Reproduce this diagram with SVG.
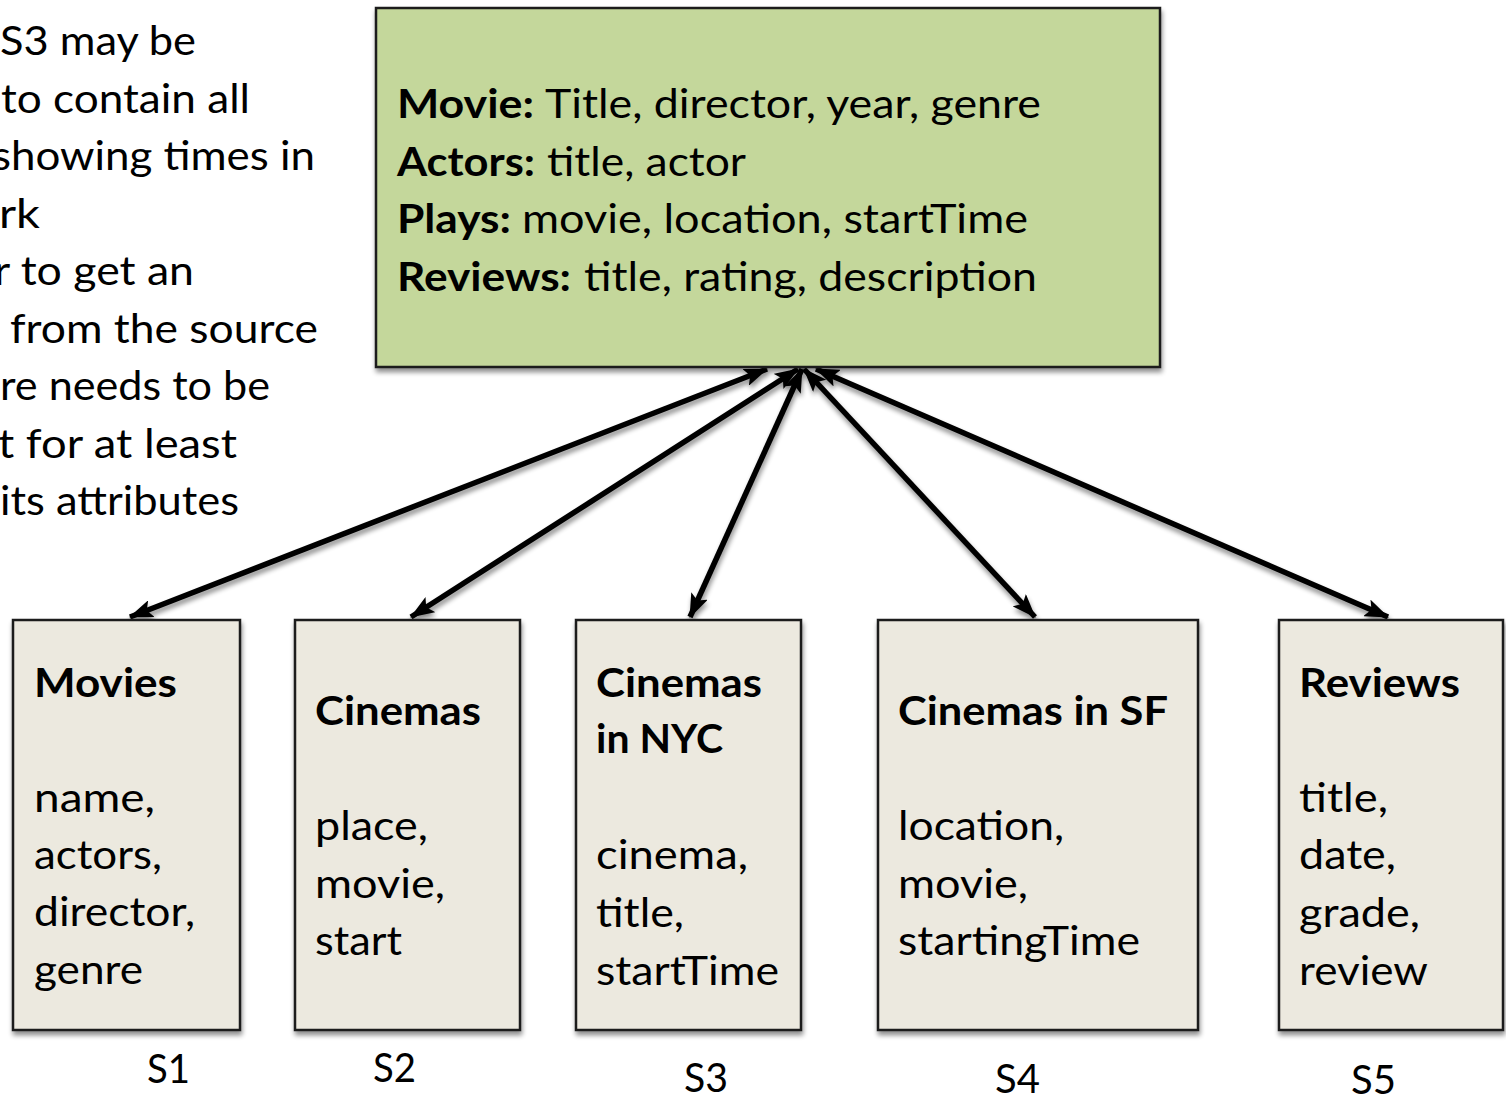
<svg xmlns="http://www.w3.org/2000/svg" width="1506" height="1100" viewBox="0 0 1506 1100">
  <style>
    text { font-family: Lato, "Open Sans", "Liberation Sans", sans-serif; font-size: 41px; fill: #000; }
    .b { font-weight: bold; }
    .src { fill: #ece9df; stroke: #1a1a1a; stroke-width: 2.5; }
    .med { fill: #c4d79b; stroke: #1a1a1a; stroke-width: 2.5; }
    .link { stroke: #000; stroke-width: 5.5; fill: none; marker-start: url(#head); marker-end: url(#head); }
  </style>
  <defs>
    <filter id="shadow" x="-10%" y="-10%" width="120%" height="125%">
      <feGaussianBlur in="SourceAlpha" stdDeviation="2.5"/>
      <feOffset dx="1" dy="4" result="off"/>
      <feComponentTransfer><feFuncA type="linear" slope="0.45"/></feComponentTransfer>
      <feMerge><feMergeNode/><feMergeNode in="SourceGraphic"/></feMerge>
    </filter>
    <marker id="head" viewBox="0 0 24 18" refX="23" refY="9" markerWidth="24" markerHeight="18" markerUnits="userSpaceOnUse" orient="auto-start-reverse">
      <path d="M0,0 L24,9 L0,18 L5,9 Z" fill="#000"/>
    </marker>
  </defs>

  <!-- note text at the left edge -->
  <g id="note">
    <text x="0" y="55" textLength="196" lengthAdjust="spacingAndGlyphs">S3 may be</text>
    <text x="1" y="112.5" textLength="249" lengthAdjust="spacingAndGlyphs">to contain all</text>
    <text x="-8" y="170" textLength="323" lengthAdjust="spacingAndGlyphs">showing times in</text>
    <text x="-1" y="227.5" textLength="41" lengthAdjust="spacingAndGlyphs">rk</text>
    <text x="-6" y="285" textLength="200" lengthAdjust="spacingAndGlyphs">r to get an</text>
    <text x="10" y="342.5" textLength="308" lengthAdjust="spacingAndGlyphs">from the source</text>
    <text x="0" y="400" textLength="270" lengthAdjust="spacingAndGlyphs">re needs to be</text>
    <text x="-2" y="457.5" textLength="239" lengthAdjust="spacingAndGlyphs">t for at least</text>
    <text x="0" y="515" textLength="239" lengthAdjust="spacingAndGlyphs">its attributes</text>
  </g>

  <!-- connectors -->
  <g id="connectors" filter="url(#shadow)">
    <line class="link" x1="130" y1="617" x2="767" y2="369"/>
    <line class="link" x1="411" y1="617" x2="798" y2="369"/>
    <line class="link" x1="690" y1="617" x2="802" y2="369"/>
    <line class="link" x1="1035" y1="617" x2="804" y2="369"/>
    <line class="link" x1="1388" y1="617" x2="816" y2="369"/>
  </g>

  <!-- mediated schema -->
  <g id="mediated">
    <rect class="med" x="376" y="8" width="784" height="359" filter="url(#shadow)"/>
    <text class="b" x="397" y="118" textLength="137" lengthAdjust="spacingAndGlyphs">Movie:</text>
    <text x="545" y="118" textLength="496" lengthAdjust="spacingAndGlyphs">Title, director, year, genre</text>
    <text class="b" x="397" y="175.5" textLength="138" lengthAdjust="spacingAndGlyphs">Actors:</text>
    <text x="547" y="175.5" textLength="199" lengthAdjust="spacingAndGlyphs">title, actor</text>
    <text class="b" x="397" y="233" textLength="114" lengthAdjust="spacingAndGlyphs">Plays:</text>
    <text x="522" y="233" textLength="506" lengthAdjust="spacingAndGlyphs">movie, location, startTime</text>
    <text class="b" x="397" y="290.5" textLength="174" lengthAdjust="spacingAndGlyphs">Reviews:</text>
    <text x="584" y="290.5" textLength="453" lengthAdjust="spacingAndGlyphs">title, rating, description</text>
  </g>

  <!-- source S1 -->
  <g id="s1">
    <rect class="src" x="13" y="620" width="227" height="410" filter="url(#shadow)"/>
    <text class="b" x="34" y="697" textLength="143" lengthAdjust="spacingAndGlyphs">Movies</text>
    <text x="34" y="812" textLength="121" lengthAdjust="spacingAndGlyphs">name,</text>
    <text x="34" y="869" textLength="128" lengthAdjust="spacingAndGlyphs">actors,</text>
    <text x="34" y="926" textLength="161" lengthAdjust="spacingAndGlyphs">director,</text>
    <text x="34" y="984" textLength="109" lengthAdjust="spacingAndGlyphs">genre</text>
    <text x="147" y="1083" textLength="43" lengthAdjust="spacingAndGlyphs">S1</text>
  </g>

  <!-- source S2 -->
  <g id="s2">
    <rect class="src" x="295" y="620" width="225" height="410" filter="url(#shadow)"/>
    <text class="b" x="315" y="725" textLength="166" lengthAdjust="spacingAndGlyphs">Cinemas</text>
    <text x="315" y="840" textLength="113" lengthAdjust="spacingAndGlyphs">place,</text>
    <text x="315" y="898" textLength="130" lengthAdjust="spacingAndGlyphs">movie,</text>
    <text x="315" y="955" textLength="87" lengthAdjust="spacingAndGlyphs">start</text>
    <text x="373" y="1082" textLength="43" lengthAdjust="spacingAndGlyphs">S2</text>
  </g>

  <!-- source S3 -->
  <g id="s3">
    <rect class="src" x="576" y="620" width="225" height="410" filter="url(#shadow)"/>
    <text class="b" x="596" y="697" textLength="166" lengthAdjust="spacingAndGlyphs">Cinemas</text>
    <text class="b" x="596" y="753" textLength="127" lengthAdjust="spacingAndGlyphs">in NYC</text>
    <text x="596" y="869" textLength="152" lengthAdjust="spacingAndGlyphs">cinema,</text>
    <text x="596" y="927" textLength="88" lengthAdjust="spacingAndGlyphs">title,</text>
    <text x="596" y="985" textLength="183" lengthAdjust="spacingAndGlyphs">startTime</text>
    <text x="684" y="1092" textLength="44" lengthAdjust="spacingAndGlyphs">S3</text>
  </g>

  <!-- source S4 -->
  <g id="s4">
    <rect class="src" x="878" y="620" width="320" height="410" filter="url(#shadow)"/>
    <text class="b" x="898" y="725" textLength="270" lengthAdjust="spacingAndGlyphs">Cinemas in SF</text>
    <text x="898" y="840" textLength="166" lengthAdjust="spacingAndGlyphs">location,</text>
    <text x="898" y="898" textLength="130" lengthAdjust="spacingAndGlyphs">movie,</text>
    <text x="898" y="955" textLength="242" lengthAdjust="spacingAndGlyphs">startingTime</text>
    <text x="995" y="1093" textLength="45" lengthAdjust="spacingAndGlyphs">S4</text>
  </g>

  <!-- source S5 -->
  <g id="s5">
    <rect class="src" x="1279" y="620" width="224" height="410" filter="url(#shadow)"/>
    <text class="b" x="1299" y="697" textLength="161" lengthAdjust="spacingAndGlyphs">Reviews</text>
    <text x="1299" y="812" textLength="89" lengthAdjust="spacingAndGlyphs">title,</text>
    <text x="1299" y="869" textLength="97" lengthAdjust="spacingAndGlyphs">date,</text>
    <text x="1299" y="927" textLength="121" lengthAdjust="spacingAndGlyphs">grade,</text>
    <text x="1299" y="985" textLength="129" lengthAdjust="spacingAndGlyphs">review</text>
    <text x="1351" y="1094" textLength="45" lengthAdjust="spacingAndGlyphs">S5</text>
  </g>
</svg>
